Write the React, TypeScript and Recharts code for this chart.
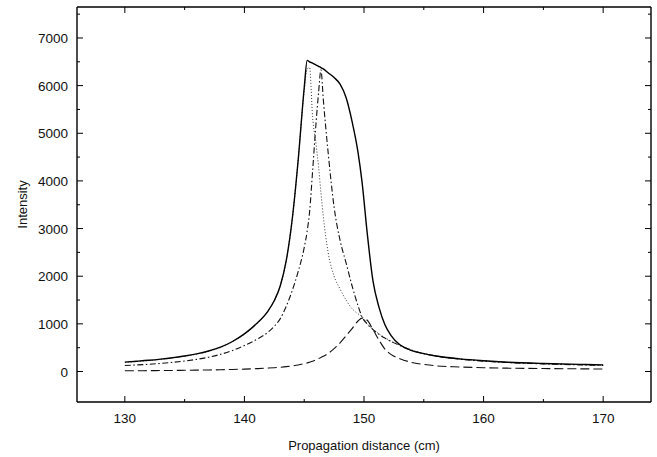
import { LineChart, Line, XAxis, YAxis } from 'recharts';

const distance = [
  130, 131, 132, 133, 134, 135, 136, 137, 138, 139, 140, 141, 142, 142.5, 143, 143.5,
  144, 144.5, 145, 145.25, 145.45, 145.7, 146, 146.2, 146.4, 146.6, 147, 147.5, 148,
  148.5, 149, 149.5, 149.85, 150.25, 150.75, 151.25, 151.75, 152.25, 153, 154, 155,
  156, 158, 160, 162, 165, 168, 170,
];

const solidCurve = [
  197, 215, 235, 260, 290, 325, 370, 430, 510, 630, 790, 1000, 1280, 1490, 1800, 2330,
  3200, 4450, 5950, 6530, 6500, 6470, 6430, 6405, 6380, 6350, 6270, 6170, 6030,
  5750, 5250, 4600, 3950, 2950, 1900, 1350, 980, 760, 560, 440, 375,
  325, 265, 225, 195, 168, 150, 140,
];

const dashDotCurve = [
  126, 138, 152, 170, 192, 220, 255, 300, 360, 440, 545, 670, 830, 950, 1110, 1370,
  1700, 2100, 2600, 2950, 3350, 4200, 5250, 5850, 6330, 5700, 4600, 3450, 2750,
  2280, 1800, 1380, 1140, 1000, 880, 780, 700, 630, 545, 445, 375,
  325, 260, 218, 188, 160, 140, 128,
];

const dottedCurve = [
  192, 210, 230, 255, 285, 320, 365, 425, 505, 625, 785, 995, 1275, 1485, 1795, 2325,
  3195, 4445, 5900, 6350, 6380, 5350, 4750, 4300, 3750, 3250, 2500, 2000, 1730,
  1500, 1320, 1210, 1150, 1010, 890, 790, 710, 640, 555, 450, 380,
  330, 265, 222, 192, 163, 143, 130,
];

const dashedCurve = [
  15, 16, 18, 20, 22, 25, 28, 32, 37, 43, 50, 60, 72, 80, 90, 102,
  118, 138, 165, 180, 195, 215, 245, 270, 295, 320, 380, 480, 600,
  750, 900, 1060, 1120, 1080, 880, 660, 470, 360, 270, 190, 150,
  120, 95, 80, 70, 62, 56, 52,
];

const xTicks = [130, 135, 140, 145, 150, 155, 160, 165, 170];
const yTicks = [0, 500, 1000, 1500, 2000, 2500, 3000, 3500, 4000, 4500, 5000, 5500, 6000, 6500, 7000, 7500];

const data = distance.map((d, i) => ({
  d,
  solid: solidCurve[i],
  dashDot: dashDotCurve[i],
  dotted: dottedCurve[i],
  dashed: dashedCurve[i],
}));

const W = 657;
const H = 457;
const X_MIN = 126;
const X_MAX = 174;
const Y_MIN = -640;
const Y_MAX = 7650;
const M = { top: 7, right: 6, left: 77, bottom: 55 };
const PLOT_W = W - M.left - M.right;
const PLOT_H = H - M.top - M.bottom;
const FONT = '"Liberation Sans", Arial, sans-serif';
const AXIS_LINE = { stroke: '#000', strokeWidth: 1.4 };

const BottomTick = (props: any) => {
  const { x, y, payload } = props;
  const major = payload.value % 10 === 0;
  return (
    <g>
      <line x1={x} x2={x} y1={y} y2={y - (major ? 6 : 3)} stroke="#000" strokeWidth={1} />
      {major && (
        <text x={x} y={y + 21} textAnchor="middle" fontSize={13.5} fontFamily={FONT} fill="#111">
          {payload.value}
        </text>
      )}
    </g>
  );
};

const LeftTick = (props: any) => {
  const { x, y, payload } = props;
  const major = payload.value % 1000 === 0;
  return (
    <g>
      <line x1={x} x2={x + (major ? 6 : 3)} y1={y} y2={y} stroke="#000" strokeWidth={1} />
      {major && payload.value <= 7000 && (
        <text x={x - 9} y={y + 5} textAnchor="end" fontSize={13.5} fontFamily={FONT} fill="#111">
          {payload.value}
        </text>
      )}
    </g>
  );
};

// top and right sides of the box, with inward ticks matching the axes
const Frame = () => {
  const right = M.left + PLOT_W;
  const top = M.top;
  const px = (v: number) => M.left + ((v - X_MIN) / (X_MAX - X_MIN)) * PLOT_W;
  const py = (v: number) => M.top + ((Y_MAX - v) / (Y_MAX - Y_MIN)) * PLOT_H;
  return (
    <svg width={W} height={H} style={{ position: 'absolute', left: 0, top: 0, pointerEvents: 'none' }}>
      <line x1={M.left} x2={right} y1={top} y2={top} stroke="#000" strokeWidth={1.4} />
      <line x1={right} x2={right} y1={top} y2={top + PLOT_H} stroke="#000" strokeWidth={1.4} />
      {xTicks.map((t) => (
        <line key={`t${t}`} x1={px(t)} x2={px(t)} y1={top} y2={top + (t % 10 === 0 ? 6 : 3)} stroke="#000" strokeWidth={1} />
      ))}
      {yTicks.map((t) => (
        <line key={`r${t}`} x1={right} x2={right - (t % 1000 === 0 ? 6 : 3)} y1={py(t)} y2={py(t)} stroke="#000" strokeWidth={1} />
      ))}
    </svg>
  );
};

export default function App() {
  return (
    <div style={{ position: 'absolute', left: 0, top: 0, width: W, height: H, background: '#fff' }}>
      <LineChart width={W} height={H} data={data} margin={{ top: M.top, right: M.right, left: 0, bottom: 0 }}>
        <XAxis
          dataKey="d"
          type="number"
          domain={[X_MIN, X_MAX]}
          ticks={xTicks}
          interval={0}
          allowDataOverflow
          height={M.bottom}
          tickSize={0}
          tickMargin={0}
          tickLine={false}
          axisLine={AXIS_LINE}
          tick={BottomTick}
          label={{
            content: (p: any) => {
              const vb = p.viewBox;
              return (
                <text x={vb.x + vb.width / 2} y={vb.y + 48} textAnchor="middle" fontSize={13} fontFamily={FONT} fill="#111">
                  Propagation distance (cm)
                </text>
              );
            },
          }}
        />
        <YAxis
          type="number"
          domain={[Y_MIN, Y_MAX]}
          ticks={yTicks}
          interval={0}
          allowDataOverflow
          width={M.left}
          tickSize={0}
          tickMargin={0}
          tickLine={false}
          axisLine={AXIS_LINE}
          tick={LeftTick}
          label={{
            content: (p: any) => {
              const vb = p.viewBox;
              const cx = 22;
              const cy = vb.y + vb.height / 2;
              return (
                <text
                  x={cx}
                  y={cy}
                  transform={`rotate(-90 ${cx} ${cy})`}
                  textAnchor="middle"
                  dominantBaseline="central"
                  fontSize={13}
                  fontFamily={FONT}
                  fill="#111"
                >
                  Intensity
                </text>
              );
            },
          }}
        />
        <Line
          type="monotone"
          dataKey="dotted"
          stroke="#333"
          strokeWidth={1}
          strokeDasharray="1 2"
          dot={false}
          isAnimationActive={false}
        />
        <Line
          type="monotone"
          dataKey="dashed"
          stroke="#111"
          strokeWidth={1.1}
          strokeDasharray="9 4"
          dot={false}
          isAnimationActive={false}
        />
        <Line
          type="monotone"
          dataKey="dashDot"
          stroke="#111"
          strokeWidth={1.1}
          strokeDasharray="6 2.5 1.5 2.5"
          dot={false}
          isAnimationActive={false}
        />
        <Line
          type="monotone"
          dataKey="solid"
          stroke="#000"
          strokeWidth={1.4}
          dot={false}
          isAnimationActive={false}
        />
      </LineChart>
      <Frame />
    </div>
  );
}
